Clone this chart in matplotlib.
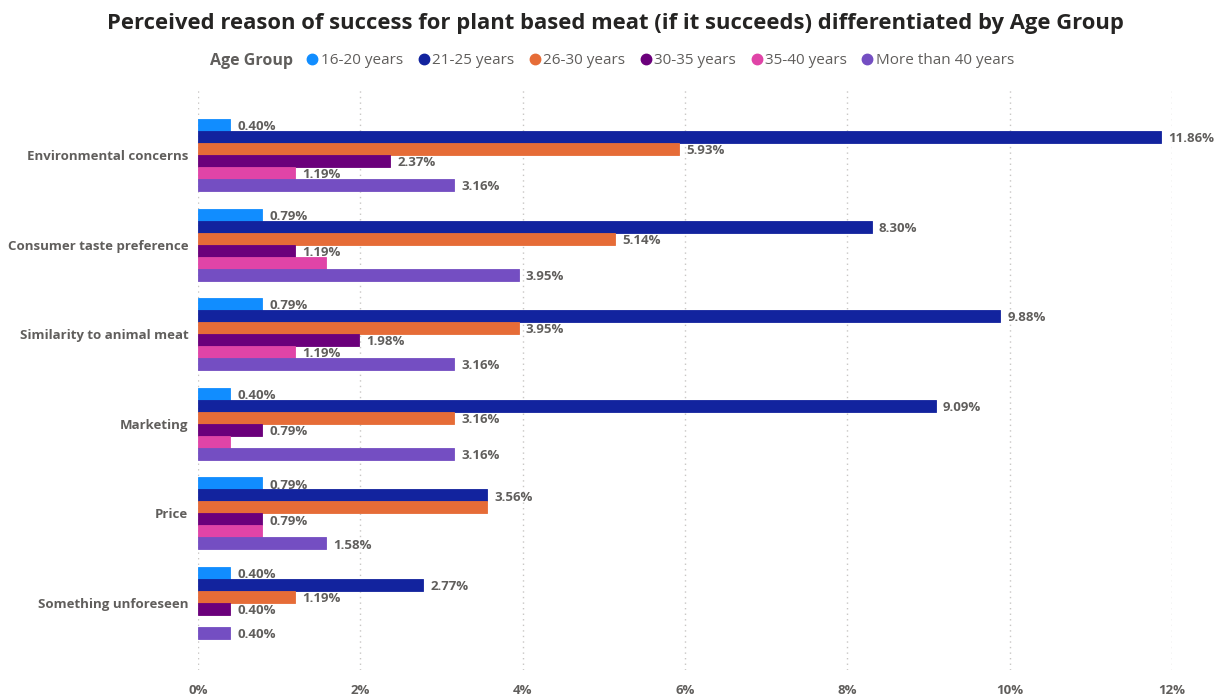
import numpy as np
import matplotlib.pyplot as plt
from matplotlib.lines import Line2D

# survey shares (%) per reason, one list per age group
reasons = ['Environmental concerns', 'Consumer taste preference', 'Similarity to animal meat',
           'Marketing', 'Price', 'Something unforeseen']
age_groups = ['16-20 years', '21-25 years', '26-30 years', '30-35 years', '35-40 years', 'More than 40 years']

age_16_20 = [0.40, 0.79, 0.79, 0.40, 0.79, 0.40]
age_21_25 = [11.86, 8.30, 9.88, 9.09, 3.56, 2.77]
age_26_30 = [5.93, 5.14, 3.95, 3.16, 3.56, 1.19]
age_30_35 = [2.37, 1.19, 1.98, 0.79, 0.79, 0.40]
age_35_40 = [1.19, 1.58, 1.19, 0.40, 0.79, np.nan]  # no answers for the last reason
age_40_plus = [3.16, 3.95, 3.16, 3.16, 1.58, 0.40]

# labels Power BI dropped because they would overlap (reason index, group index)
hidden_labels = {(1, 4), (3, 4), (4, 2), (4, 4)}

xticks = [0, 2, 4, 6, 8, 10, 12]

colors = ['#118DFF', '#12239E', '#E66C37', '#6B007B', '#E044A7', '#744EC2']
series = [age_16_20, age_21_25, age_26_30, age_30_35, age_35_40, age_40_plus]

plt.rcParams['font.family'] = ['Open Sans', 'DejaVu Sans']
txt_col = '#605E5C'

fig = plt.figure(figsize=(12.19, 6.96), dpi=100)
ax = fig.add_axes([0.1624, 0.0374, 0.9614 - 0.1624, 0.8736 - 0.0374])

y = np.arange(len(reasons))
h = 0.134
for i, vals in enumerate(series):
    vals = np.array(vals, dtype=float)
    pos = y + (i - 2.5) * h
    ok = ~np.isnan(vals)
    ax.barh(pos[ok], vals[ok], height=h, color=colors[i], edgecolor=colors[i], linewidth=0.6, zorder=3)
    for j, v in enumerate(vals):
        if np.isnan(v) or (j, i) in hidden_labels:
            continue
        ax.text(v + 0.09, pos[j] + 0.02, f'{v:.2f}%', va='center', ha='left',
                fontsize=9.5, fontweight='bold', color=txt_col, zorder=4)

ax.set_ylim(len(reasons) - 0.25, -0.75)
ax.set_xlim(0, 12)
ax.set_yticks(y)
ax.set_yticklabels(reasons, fontsize=9.5, fontweight='bold', color=txt_col)
ax.set_xticks(xticks)
ax.set_xticklabels([f'{t}%' for t in xticks], fontsize=9.5, fontweight='bold', color=txt_col)
ax.tick_params(axis='both', length=0)
ax.tick_params(axis='y', pad=7)
ax.tick_params(axis='x', pad=10)
ax.grid(axis='x', color='#C8C6C4', linestyle=(0, (1, 3)), linewidth=1, zorder=0)
for s in ax.spines.values():
    s.set_visible(False)

fig.text(0.505, 0.966, 'Perceived reason of success for plant based meat (if it succeeds) differentiated by Age Group',
         ha='center', va='center', fontsize=15.8, fontweight='bold', color='#252423')

# legend row
fig.text(0.172, 0.913, 'Age Group', ha='left', va='center', fontsize=11.5, fontweight='bold', color=txt_col)
handles = [Line2D([], [], marker='o', linestyle='', markersize=7.5, color=c) for c in colors]
fig.legend(handles, age_groups, loc='center left', bbox_to_anchor=(0.250, 0.913), ncol=6,
           frameon=False, handletextpad=0.05, columnspacing=0.85, handlelength=1.0,
           borderaxespad=0, borderpad=0, prop={'size': 11}, labelcolor=txt_col)

fig.savefig('out.png', dpi=100, facecolor='white')
